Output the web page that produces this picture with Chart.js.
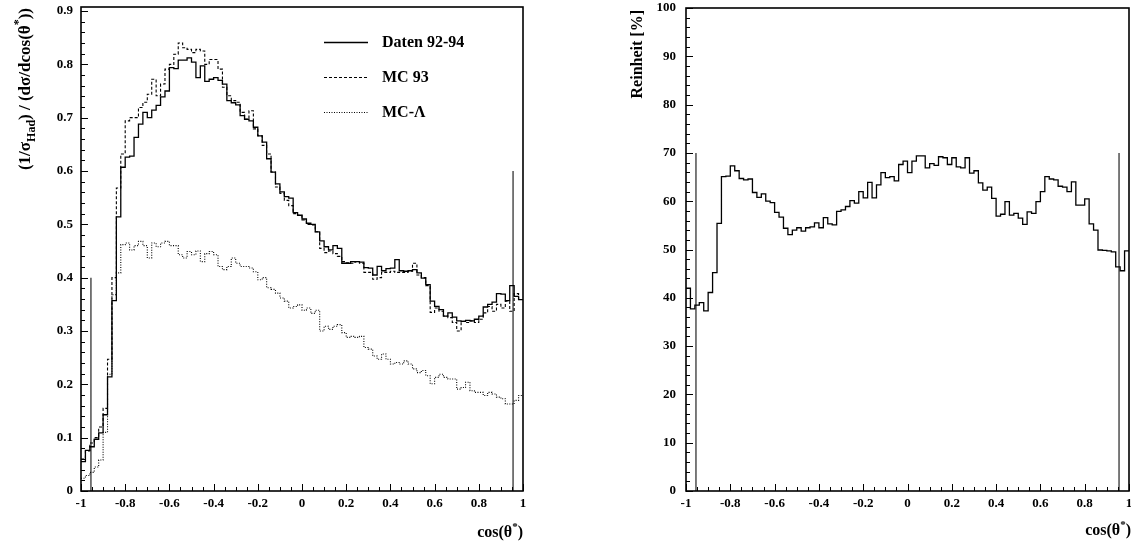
<!DOCTYPE html>
<html>
<head>
<meta charset="utf-8">
<title>cos(θ*) Verteilung und Reinheit</title>
<script src="https://cdn.jsdelivr.net/npm/chart.js@4/dist/chart.umd.min.js"></script>
<style>
  html, body { margin: 0; padding: 0; background: #fff; overflow: hidden; }
  #cvLeft { position: absolute; left: 0; top: 0; }
  #cvRight { position: absolute; left: 565px; top: 0; }
</style>
</head>
<body>
<canvas id="cvLeft" width="560" height="542"></canvas>
<canvas id="cvRight" width="570" height="542"></canvas>
<script>
// 100 bins from -1 to 1 in cos(theta*)
const nBins = 100;
const xLow = -1;
const xHigh = 1;
const binEdges = Array.from({ length: nBins + 1 }, (_, i) => xLow + i * (xHigh - xLow) / nBins);

// tick labels
const xTicks = [-1, -0.8, -0.6, -0.4, -0.2, 0, 0.2, 0.4, 0.6, 0.8, 1];
const yTicksLeft = [0, 0.1, 0.2, 0.3, 0.4, 0.5, 0.6, 0.7, 0.8, 0.9];
const yTicksRight = [0, 10, 20, 30, 40, 50, 60, 70, 80, 90, 100];
const yMaxLeft = 0.9075; // frame top sits a little above the 0.9 tick

const legendLabels = ["Daten 92-94", "MC 93", "MC-\u039B"];

// (1/sigma_had) dsigma/dcos, data 92-94
const daten = [
  0.055, 0.076, 0.083, 0.097, 0.109, 0.143, 0.214, 0.357, 0.514, 0.607,
  0.626, 0.628, 0.663, 0.688, 0.710, 0.700, 0.714, 0.723, 0.739, 0.750,
  0.794, 0.792, 0.808, 0.808, 0.812, 0.804, 0.775, 0.797, 0.768, 0.772,
  0.775, 0.770, 0.763, 0.732, 0.728, 0.724, 0.704, 0.697, 0.694, 0.682,
  0.666, 0.654, 0.623, 0.598, 0.576, 0.561, 0.552, 0.549, 0.522, 0.517,
  0.510, 0.502, 0.500, 0.486, 0.469, 0.458, 0.452, 0.460, 0.455, 0.427,
  0.427, 0.430, 0.430, 0.429, 0.419, 0.418, 0.405, 0.421, 0.413, 0.417,
  0.418, 0.434, 0.413, 0.412, 0.413, 0.415, 0.409, 0.399, 0.387, 0.356,
  0.346, 0.340, 0.328, 0.334, 0.326, 0.319, 0.318, 0.320, 0.319, 0.322,
  0.328, 0.345, 0.350, 0.354, 0.370, 0.369, 0.357, 0.385, 0.365, 0.359
];

// MC 93 full simulation
const mc93 = [
  0.060, 0.075, 0.090, 0.100, 0.120, 0.155, 0.247, 0.400, 0.568, 0.632,
  0.694, 0.700, 0.700, 0.719, 0.729, 0.744, 0.772, 0.741, 0.763, 0.791,
  0.800, 0.819, 0.840, 0.831, 0.828, 0.822, 0.828, 0.825, 0.800, 0.809,
  0.809, 0.791, 0.757, 0.741, 0.732, 0.729, 0.710, 0.697, 0.713, 0.679,
  0.666, 0.648, 0.632, 0.598, 0.570, 0.558, 0.545, 0.535, 0.520, 0.517,
  0.508, 0.500, 0.499, 0.486, 0.455, 0.447, 0.450, 0.445, 0.440, 0.430,
  0.428, 0.427, 0.430, 0.427, 0.410, 0.410, 0.397, 0.400, 0.410, 0.410,
  0.412, 0.410, 0.410, 0.410, 0.412, 0.427, 0.405, 0.400, 0.385, 0.335,
  0.343, 0.337, 0.328, 0.325, 0.316, 0.300, 0.318, 0.316, 0.319, 0.316,
  0.322, 0.334, 0.346, 0.337, 0.350, 0.343, 0.356, 0.337, 0.370, 0.359
];

// MC, true Lambda candidates only
const mcLambda = [
  0.024, 0.029, 0.035, 0.045, 0.058, 0.110, 0.219, 0.368, 0.409, 0.462,
  0.465, 0.452, 0.460, 0.468, 0.460, 0.437, 0.465, 0.458, 0.465, 0.468,
  0.460, 0.460, 0.443, 0.437, 0.449, 0.443, 0.450, 0.430, 0.445, 0.449,
  0.443, 0.421, 0.415, 0.421, 0.437, 0.427, 0.421, 0.421, 0.418, 0.411,
  0.396, 0.400, 0.381, 0.378, 0.371, 0.362, 0.356, 0.343, 0.346, 0.349,
  0.339, 0.343, 0.333, 0.339, 0.300, 0.309, 0.303, 0.309, 0.312, 0.297,
  0.288, 0.290, 0.288, 0.290, 0.269, 0.266, 0.253, 0.247, 0.257, 0.247,
  0.238, 0.241, 0.238, 0.244, 0.238, 0.229, 0.222, 0.226, 0.216, 0.201,
  0.213, 0.219, 0.213, 0.210, 0.210, 0.191, 0.194, 0.204, 0.188, 0.185,
  0.185, 0.179, 0.185, 0.182, 0.176, 0.173, 0.163, 0.163, 0.170, 0.179
];

// purity in percent
const reinheit = [
  42.0, 37.7, 38.5, 39.0, 37.3, 41.1, 45.2, 55.4, 65.1, 65.2,
  67.3, 66.3, 64.7, 64.4, 64.6, 61.8, 60.8, 61.5, 60.0, 59.7,
  57.7, 56.7, 54.4, 53.1, 54.0, 54.5, 53.8, 54.5, 54.7, 55.5,
  54.5, 56.6, 55.3, 55.1, 57.9, 58.2, 58.9, 60.1, 59.6, 62.0,
  60.7, 63.9, 60.7, 63.4, 65.9, 64.9, 65.1, 64.2, 67.6, 68.3,
  65.9, 68.3, 69.4, 69.4, 66.9, 67.8, 67.4, 69.2, 69.0, 67.6,
  69.0, 67.1, 66.9, 69.0, 65.8, 66.3, 63.8, 62.3, 62.9, 60.6,
  56.9, 57.3, 59.9, 57.1, 57.5, 56.5, 55.2, 57.8, 57.5, 59.9,
  62.0, 65.1, 64.6, 64.4, 63.1, 62.9, 62.0, 64.0, 59.2, 59.2,
  60.5, 55.3, 54.0, 49.9, 49.8, 49.7, 49.5, 46.4, 45.6, 49.7
];

// cut positions and heights of the marker lines
const cutX = [-0.955, 0.955];
const cutTopLeft = [0.4, 0.6];
const cutTopRight = [70, 70];

const serif = "'Liberation Serif', 'Times New Roman', serif";
const tickFont = { family: serif, size: 13, weight: "bold" };

function fmt(v) {
  return parseFloat(v.toFixed(1)).toString();
}

// histogram as step line: left edge of each bin, plus closing point at x=1
function histPoints(values) {
  const pts = values.map((v, i) => ({ x: binEdges[i], y: v }));
  pts.push({ x: binEdges[nBins], y: values[nBins - 1] });
  return pts;
}

function histDataset(label, values, dash) {
  return {
    label: label,
    data: histPoints(values),
    stepped: "before", // horizontal over the bin first, then the vertical edge
    borderColor: "#000",
    borderWidth: dash.length ? 1.1 : 1.3,
    borderDash: dash,
    pointRadius: 0,
    fill: false,
    tension: 0,
  };
}

function cutDataset(x, top) {
  return {
    label: "",
    legend: false,
    data: [{ x: x, y: 0 }, { x: x, y: top }],
    borderColor: "#222",
    borderWidth: 1.2,
    pointRadius: 0,
    fill: false,
  };
}

function xAxis() {
  return {
    type: "linear",
    min: xLow,
    max: xHigh,
    grid: { display: false, drawTicks: false },
    border: { display: false },
    afterBuildTicks: (s) => { s.ticks = xTicks.map((v) => ({ value: v })); },
    ticks: { padding: 5, color: "#000", font: tickFont, maxRotation: 0, autoSkip: false, callback: fmt },
    afterFit: (s) => { s.height = 51; s.paddingLeft = 0; s.paddingRight = 0; },
  };
}

function yAxis(ticks, max, width, pad) {
  return {
    type: "linear",
    min: ticks[0],
    max: max,
    grid: { display: false, drawTicks: false },
    border: { display: false },
    afterBuildTicks: (s) => { s.ticks = ticks.map((v) => ({ value: v })); },
    ticks: { padding: pad, color: "#000", font: tickFont, autoSkip: false, callback: fmt },
    afterFit: (s) => { s.width = width; s.paddingTop = 0; s.paddingBottom = 0; },
  };
}

// box around the pad, ticks pointing inwards on x and y axis
function framePlugin(yMajor, yNDiv) {
  return {
    id: "frame",
    afterDatasetsDraw(chart) {
      const { ctx, chartArea: a, scales } = chart;
      const x = scales.x, y = scales.y;
      ctx.save();
      ctx.strokeStyle = "#000";
      ctx.lineWidth = 1.6;
      ctx.strokeRect(a.left, a.top, a.right - a.left, a.bottom - a.top);
      ctx.lineWidth = 1;
      ctx.beginPath();
      const xStep = 0.05;
      for (let k = 0; k <= 40; k++) {
        const px = Math.round(x.getPixelForValue(xLow + k * xStep)) + 0.5;
        const len = k % 4 === 0 ? 7 : 4;
        ctx.moveTo(px, a.bottom);
        ctx.lineTo(px, a.bottom - len);
      }
      const yStep = yMajor / yNDiv;
      const nY = Math.floor(y.max / yStep + 1e-6);
      for (let k = 0; k <= nY; k++) {
        const py = Math.round(y.getPixelForValue(k * yStep)) + 0.5;
        const len = k % yNDiv === 0 ? 7 : 4;
        ctx.moveTo(a.left, py);
        ctx.lineTo(a.left + len, py);
      }
      ctx.stroke();
      ctx.restore();
    },
  };
}

// text with sub- and superscript pieces
function drawRich(ctx, parts, size, x, y, alignRight) {
  const big = "bold " + size + "px " + serif;
  const small = "bold " + Math.round(size * 0.68) + "px " + serif;
  let total = 0;
  parts.forEach((p) => {
    ctx.font = p.sub || p.sup ? small : big;
    total += ctx.measureText(p.t).width;
  });
  let cx = alignRight ? x - total : x;
  ctx.textBaseline = "alphabetic";
  ctx.textAlign = "left";
  parts.forEach((p) => {
    ctx.font = p.sub || p.sup ? small : big;
    let dy = 0;
    if (p.sub) dy = size * 0.3;
    if (p.sup) dy = -size * 0.45;
    ctx.fillText(p.t, cx, y + dy);
    cx += ctx.measureText(p.t).width;
  });
}

const cosTitle = [{ t: "cos(\u03B8" }, { t: "*", sup: true }, { t: ")" }];

function titlePlugin(yParts, ySize, yBase, yEnd, xRight, xBase) {
  return {
    id: "titles",
    afterDraw(chart) {
      const ctx = chart.ctx;
      ctx.save();
      ctx.fillStyle = "#000";
      drawRich(ctx, cosTitle, 16, xRight, xBase, true);
      ctx.translate(yBase, yEnd);
      ctx.rotate(-Math.PI / 2);
      drawRich(ctx, yParts, ySize, 0, 0, true);
      ctx.restore();
    },
  };
}

// legend in the upper right of the left pad
const legendPlugin = {
  id: "histLegend",
  afterDraw(chart) {
    const ctx = chart.ctx;
    const a = chart.chartArea;
    const x0 = a.left + 243, x1 = a.left + 287, tx = a.left + 301;
    const rows = [42, 77, 112];
    ctx.save();
    chart.data.datasets.filter((ds) => ds.legend !== false).forEach((ds, i) => {
      ctx.strokeStyle = "#000";
      ctx.lineWidth = ds.borderWidth;
      ctx.setLineDash(ds.borderDash || []);
      ctx.beginPath();
      ctx.moveTo(x0, rows[i] + 0.5);
      ctx.lineTo(x1, rows[i] + 0.5);
      ctx.stroke();
      ctx.setLineDash([]);
      ctx.fillStyle = "#000";
      ctx.font = "bold 16px " + serif;
      ctx.textBaseline = "middle";
      ctx.fillText(legendLabels[i], tx, rows[i] + 1);
    });
    ctx.restore();
  },
};

const commonOptions = {
  responsive: false,
  animation: false,
  devicePixelRatio: 1,
  events: [],
  plugins: { legend: { display: false }, tooltip: { enabled: false } },
};

new Chart(document.getElementById("cvLeft"), {
  type: "line",
  data: {
    datasets: [
      histDataset(legendLabels[0], daten, []),
      histDataset(legendLabels[1], mc93, [3, 2]),
      histDataset(legendLabels[2], mcLambda, [1, 1.5]),
      cutDataset(cutX[0], cutTopLeft[0]),
      cutDataset(cutX[1], cutTopLeft[1]),
    ],
  },
  options: Object.assign({}, commonOptions, {
    layout: { padding: { left: 0, top: 7, right: 37, bottom: 0 } },
    scales: { x: xAxis(), y: yAxis(yTicksLeft, yMaxLeft, 81, 8) },
  }),
  plugins: [
    framePlugin(0.1, 5),
    legendPlugin,
    titlePlugin(
      [{ t: "(1/\u03C3" }, { t: "Had", sub: true }, { t: ") / (d\u03C3/dcos(\u03B8" }, { t: "*", sup: true }, { t: "))" }],
      17, 30, 8, 523, 537
    ),
  ],
});

new Chart(document.getElementById("cvRight"), {
  type: "line",
  data: {
    datasets: [
      histDataset("Reinheit", reinheit, []),
      cutDataset(cutX[0], cutTopRight[0]),
      cutDataset(cutX[1], cutTopRight[1]),
    ],
  },
  options: Object.assign({}, commonOptions, {
    layout: { padding: { left: 0, top: 8, right: 6, bottom: 0 } },
    scales: { x: xAxis(), y: yAxis(yTicksRight, yTicksRight[yTicksRight.length - 1], 121, 10) },
  }),
  plugins: [
    framePlugin(10, 5),
    titlePlugin([{ t: "Reinheit [%]" }], 16, 77, 10, 566, 535),
  ],
});
</script>
</body>
</html>
